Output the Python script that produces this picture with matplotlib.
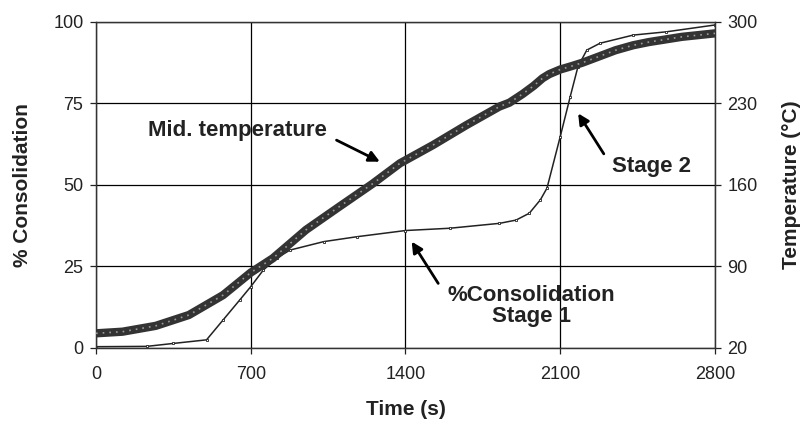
import matplotlib
matplotlib.use("Agg")
import matplotlib.pyplot as plt

plt.rcParams['font.family'] = ['Liberation Sans', 'DejaVu Sans']

# time axis (s) and readings taken off the original figure
temp_time = [0, 120, 270, 420, 575, 700, 800, 950, 1100, 1250, 1375, 1525,
             1675, 1825, 1870, 1930, 1980, 2020, 2050, 2100, 2150, 2200,
             2280, 2350, 2430, 2500, 2650, 2800]
mid_temp = [32.6, 34.0, 39.0, 48.3, 65.4, 84.7, 97.0, 121.4, 141.2, 160.8,
            178.5, 194.2, 211.2, 227.2, 230.5, 238.0, 245.0, 251.5, 255.0,
            259.0, 261.8, 264.8, 270.5, 275.5, 279.8, 282.5, 287.0, 290.0]

cons_time = [0, 230, 350, 500, 575, 650, 700, 757, 817, 877, 1030, 1180, 1400,
             1600, 1825, 1900, 1960, 2010, 2040, 2100, 2145, 2180, 2220, 2280,
             2430, 2580, 2800]
consolidation = [0.4, 0.5, 1.4, 2.5, 8.6, 14.7, 18.8, 23.9, 27.5, 30.0, 32.6,
                 34.1, 36.0, 36.7, 38.2, 39.2, 41.3, 45.4, 49.0, 64.8, 77.0,
                 86.2, 91.3, 93.4, 95.9, 96.9, 99.0]

x_ticks = [0, 700, 1400, 2100, 2800]
cons_ticks = [0, 25, 50, 75, 100]
temp_ticks = [20, 90, 160, 230, 300]

ink = '#222222'

fig = plt.figure(figsize=(8.04, 4.23), dpi=100)
ax = fig.add_axes([96 / 804, 1 - 348 / 423, 619 / 804, 326.3 / 423])
ax2 = ax.twinx()

ax.plot(cons_time, consolidation, color=ink, lw=1.1, marker='s', ms=2,
        mfc='white', mec=ink, mew=0.6, zorder=3)
# thick band of overlapping open circles
ax2.plot(temp_time, mid_temp, color='#333333', lw=6, solid_capstyle='round',
         solid_joinstyle='round', zorder=3)
ax2.plot(temp_time, mid_temp, color='#9a9a9a', lw=1.2, ls=(0, (1, 3)),
         zorder=4)

ax.set_xlim(0, 2800)
ax.set_ylim(0, 100)
ax2.set_ylim(20, 300)
ax.set_xticks(x_ticks)
ax.set_yticks(cons_ticks)
ax2.set_yticks(temp_ticks)

ax.grid(True, color='black', lw=0.9, zorder=0)
ax.set_axisbelow(True)

for a in (ax, ax2):
    for s in a.spines.values():
        s.set_color('#333333')
        s.set_linewidth(0.9)
ax.tick_params(axis='x', length=4, width=0.9, pad=9, labelsize=13, colors=ink)
ax.tick_params(axis='y', length=4, width=0.9, pad=5, labelsize=13, colors=ink)
ax2.tick_params(axis='y', length=4, width=0.9, pad=5, labelsize=13, colors=ink)

ax.set_xlabel('Time (s)', fontsize=15, fontweight='bold', color=ink)
ax.set_ylabel('% Consolidation', fontsize=15, fontweight='bold', color=ink)
ax2.set_ylabel('Temperature (°C)', fontsize=15, fontweight='bold', color=ink)
ax.xaxis.set_label_coords(0.5, -0.158)
ax.yaxis.set_label_coords(-0.104, 0.5)
ax2.yaxis.set_label_coords(1.108, 0.5)

arrow = dict(arrowstyle='-|>', lw=2.0, color='black', mutation_scale=16,
             shrinkA=0, shrinkB=0)
ax.text(640, 66.6, 'Mid. temperature', fontsize=16, fontweight='bold',
        ha='center', va='center', color=ink)
ax.annotate('', xy=(1284, 57.1), xytext=(1088, 63.7), arrowprops=arrow)

ax.text(2513, 55.5, 'Stage 2', fontsize=16, fontweight='bold',
        ha='center', va='center', color=ink)
ax.annotate('', xy=(2181, 71.9), xytext=(2297, 59.5), arrowprops=arrow)

ax.text(1968, 12.9, '%Consolidation\nStage 1', fontsize=16, fontweight='bold',
        ha='center', va='center', color=ink, linespacing=1.0)
ax.annotate('', xy=(1428, 32.6), xytext=(1548, 19.8), arrowprops=arrow)

fig.savefig('out.png', dpi=100)
